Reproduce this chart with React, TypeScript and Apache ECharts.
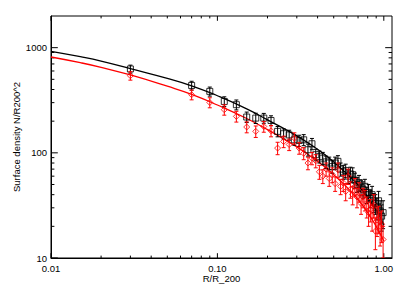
import React, { useEffect, useRef } from 'react';
import * as echarts from 'echarts';

const radiusBins = [
  0.03, 0.07, 0.09, 0.11, 0.13, 0.15, 0.17, 0.19, 0.21, 0.23, 0.25, 0.27, 0.29, 0.31, 0.33, 0.35,
  0.37, 0.39, 0.41, 0.43, 0.45, 0.47, 0.49, 0.51, 0.53, 0.55, 0.57, 0.59, 0.61, 0.63, 0.65, 0.67,
  0.69, 0.71, 0.73, 0.75, 0.77, 0.79, 0.81, 0.83, 0.85, 0.87, 0.89, 0.91, 0.93, 0.95, 0.97, 0.99,
];
const blackDensity = [
  627, 437, 384, 308, 287, 219, 214, 214, 203, 160, 152, 148, 133, 131, 133, 107,
  122, 96, 92, 89, 82, 80, 74, 80, 83, 70, 66, 68, 60, 63, 62, 55,
  50, 52, 47, 45, 48, 40, 42, 37, 40, 34, 33, 30, 35, 28, 25, 27,
];
const blackError = [
  55, 42, 38, 33, 31, 25, 24, 23, 22, 18, 17, 16, 15, 16, 16, 14,
  15, 12, 12, 12, 11, 11, 10, 11, 11, 10, 10, 10, 9, 10, 10, 9,
  8, 9, 8, 8, 8, 7, 8, 7, 8, 7, 7, 7, 8, 7, 7, 8,
];
const redDensity = [
  541, 357, 301, 257, 222, 176, 160, 178, 162, 111, 128, 120, 138, 111, 99, 80,
  89, 84, 66, 60, 70, 57, 62, 51, 69, 48, 52, 43, 60, 45, 40, 48,
  38, 43, 33, 38, 36, 31, 27, 29, 25, 32, 18, 23, 24, 20, 21, 15,
];
const redError = [
  50, 38, 33, 29, 26, 21, 20, 21, 20, 15, 16, 15, 17, 14, 13, 11,
  12, 12, 10, 9, 10, 9, 10, 8, 11, 8, 9, 8, 10, 8, 8, 9,
  8, 9, 7, 8, 8, 7, 7, 7, 7, 8, 6, 7, 7, 7, 7, 5,
];
const fitRadius = [0.01, 0.015, 0.02, 0.03, 0.05, 0.07, 0.1, 0.15, 0.2, 0.3, 0.4, 0.5, 0.6, 0.7, 0.8, 0.9, 0.95, 1.0];
const blackFit = [922, 820, 745, 631, 510, 434, 349, 262, 206, 145, 108, 82, 63, 49.5, 37.5, 28.6, 24.5, 20.6];
const redFit = [815, 720, 650, 550, 430, 360, 285, 212, 166, 114, 83, 62, 47, 36, 27, 20, 17, 14.5];

const xMinorTicks = [0.02, 0.03, 0.04, 0.05, 0.06, 0.07, 0.08, 0.09, 0.2, 0.3, 0.4, 0.5, 0.6, 0.7, 0.8, 0.9];
const xMajorTicks = [0.01, 0.1, 1];
const yMinorTicks = [20, 30, 40, 50, 60, 70, 80, 90, 200, 300, 400, 500, 600, 700, 800, 900];
const yMajorTicks = [10, 100, 1000];

const FONT = 'Liberation Sans';
const BLACK = '#000000';
const RED = '#ff0000';

const isDecade = (v: number) => {
  const l = Math.log10(v);
  return Math.abs(l - Math.round(l)) < 1e-6;
};

const errorRender = (color: string) => (params: any, api: any) => {
  const x = api.value(0);
  const lo = api.coord([x, api.value(1)]);
  const hi = api.coord([x, api.value(2)]);
  const cw = 2;
  const st = { stroke: color, lineWidth: 1 };
  return {
    type: 'group',
    children: [
      { type: 'line', shape: { x1: lo[0], y1: lo[1], x2: hi[0], y2: hi[1] }, style: st },
      { type: 'line', shape: { x1: lo[0] - cw, y1: lo[1], x2: lo[0] + cw, y2: lo[1] }, style: st },
      { type: 'line', shape: { x1: hi[0] - cw, y1: hi[1], x2: hi[0] + cw, y2: hi[1] }, style: st },
    ],
  };
};

export default function App() {
  const ref = useRef<HTMLDivElement>(null);
  useEffect(() => {
    if (!ref.current) return;
    const chart = echarts.init(ref.current, null, { renderer: 'svg' });
    const blackPts = radiusBins.map((x, i) => [x, blackDensity[i]]);
    const redPts = radiusBins.map((x, i) => [x, redDensity[i]]);
    const blackErr = radiusBins.map((x, i) => [x, blackDensity[i] - blackError[i], blackDensity[i] + blackError[i]]);
    const redErr = radiusBins.map((x, i) => [x, redDensity[i] - redError[i], redDensity[i] + redError[i]]);
    chart.setOption({
      animation: false,
      backgroundColor: '#ffffff',
      grid: { left: 51, right: 15, top: 16, bottom: 33, show: true, borderColor: BLACK, borderWidth: 1, backgroundColor: 'transparent' },
      xAxis: {
        type: 'log',
        logBase: 10,
        min: 0.01,
        max: 1.12,
        name: 'R/R_200',
        nameLocation: 'middle',
        nameGap: 15,
        nameMoveOverlap: false,
        nameTextStyle: { fontFamily: FONT, fontSize: 9.5, color: BLACK },
        axisLine: { show: true, lineStyle: { color: BLACK, width: 1 } },
        axisTick: { show: false },
        splitLine: { show: false },
        minorTick: { show: false },
        axisLabel: {
          fontFamily: FONT,
          fontSize: 9.5,
          color: BLACK,
          margin: 5,
          formatter: (v: number) => (isDecade(v) ? v.toFixed(2) : ''),
        },
      },
      yAxis: {
        type: 'log',
        logBase: 10,
        min: 10,
        max: 2000,
        name: 'Surface density N/R200^2',
        nameLocation: 'middle',
        nameGap: 30,
        nameMoveOverlap: false,
        nameTextStyle: { fontFamily: FONT, fontSize: 9.5, color: BLACK },
        axisLine: { show: true, lineStyle: { color: BLACK, width: 1 } },
        axisTick: { show: false },
        splitLine: { show: false },
        axisLabel: {
          fontFamily: FONT,
          fontSize: 9.5,
          color: BLACK,
          margin: 4,
          formatter: (v: number) => (isDecade(v) ? String(Math.round(v)) : ''),
        },
      },
      series: [
        { type: 'line', data: fitRadius.map((x, i) => [x, blackFit[i]]), smooth: true, showSymbol: false, symbol: 'none', lineStyle: { color: BLACK, width: 1.3 }, z: 2 },
        { type: 'line', data: fitRadius.map((x, i) => [x, redFit[i]]), smooth: true, showSymbol: false, symbol: 'none', lineStyle: { color: RED, width: 1.3 }, z: 2 },
        { type: 'custom', data: blackErr, renderItem: errorRender(BLACK), encode: { x: 0, y: [1, 2] }, clip: true, z: 3 },
        { type: 'scatter', data: blackPts, symbol: 'rect', symbolSize: 6, itemStyle: { color: 'transparent', borderColor: BLACK, borderWidth: 1 }, z: 3 },
        { type: 'custom', data: redErr, renderItem: errorRender(RED), encode: { x: 0, y: [1, 2] }, clip: true, z: 4 },
        { type: 'scatter', data: redPts, symbol: 'diamond', symbolSize: 6, itemStyle: { color: 'transparent', borderColor: RED, borderWidth: 1 }, z: 4 },
      ],
    });

    const top = 16;
    const bottom = 291 - 33;
    const left = 51;
    const right = 407 - 15;
    const xMajLen = 4.8, xMinLen = 2.4, yMajLen = 6.8, yMinLen = 3.4;
    const lines: any[] = [];
    const mk = (x1: number, y1: number, x2: number, y2: number) =>
      lines.push({ type: 'line', silent: true, shape: { x1, y1, x2, y2 }, style: { stroke: BLACK, lineWidth: 1 } });
    const xTick = (v: number, len: number) => {
      const px = chart.convertToPixel({ xAxisIndex: 0 }, v) as number;
      mk(px, bottom, px, bottom - len);
      mk(px, top, px, top + len);
    };
    const yTick = (v: number, len: number) => {
      const py = chart.convertToPixel({ yAxisIndex: 0 }, v) as number;
      mk(left, py, left + len, py);
      mk(right, py, right - len, py);
    };
    xMajorTicks.forEach((v) => xTick(v, xMajLen));
    xMinorTicks.forEach((v) => xTick(v, xMinLen));
    yMajorTicks.forEach((v) => yTick(v, yMajLen));
    yMinorTicks.forEach((v) => yTick(v, yMinLen));
    chart.setOption({ graphic: lines });

    return () => chart.dispose();
  }, []);
  return <div ref={ref} style={{ position: 'absolute', left: 0, top: 0, width: 407, height: 291 }} />;
}
